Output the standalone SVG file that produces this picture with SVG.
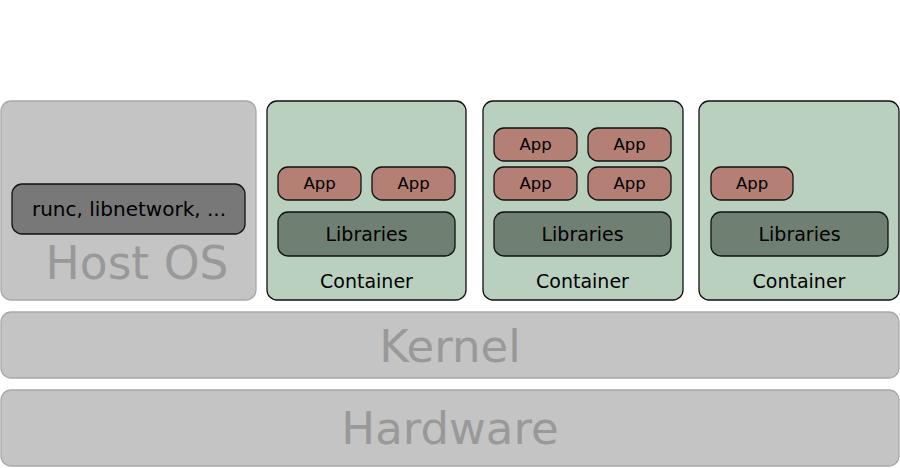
<svg xmlns="http://www.w3.org/2000/svg" width="900" height="468" viewBox="0 0 900 468">
<style>
.layer{fill:#c4c4c4;stroke:#a8a8a8;stroke-width:1.3}
.big{font-family:"DejaVu Sans",sans-serif;font-size:45px;fill:#999;text-anchor:middle}
.cont{fill:#b9d0bf;stroke:#111;stroke-width:1.3}
.app{fill:#b47f75;stroke:#111;stroke-width:1.3}
.lib{fill:#6f7f72;stroke:#111;stroke-width:1.3}
.tool{fill:#787878;stroke:#111;stroke-width:1.3}
.t{font-family:"DejaVu Sans",sans-serif;fill:#000;text-anchor:middle}
.s16{font-size:16.5px}
.s18{font-size:19px}
.s19{font-size:20px}
</style>
<rect width="900" height="468" fill="#fff"/>
<g id="hostos">
<rect class="layer" x="1" y="101" width="255" height="199" rx="10"/>
<rect class="tool" x="12" y="184" width="233" height="50" rx="10"/>
<text class="t s19" x="129" y="216">runc, libnetwork, ...</text>
<text class="big" x="137" y="279" style="font-size:45.5px">Host OS</text>
</g>
<g id="container1">
<rect class="cont" x="267" y="101" width="199" height="199" rx="10"/>
<rect class="app" x="278" y="167" width="83" height="33" rx="10"/>
<text class="t s16" x="319.5" y="189">App</text>
<rect class="app" x="372" y="167" width="83" height="33" rx="10"/>
<text class="t s16" x="413.5" y="189">App</text>
<rect class="lib" x="278" y="212" width="177" height="44" rx="10"/>
<text class="t s18" x="366.5" y="241">Libraries</text>
<text class="t s18" x="366.5" y="288">Container</text>
</g>
<g id="container2">
<rect class="cont" x="483" y="101" width="200" height="199" rx="10"/>
<rect class="app" x="494" y="128" width="83" height="33" rx="10"/>
<text class="t s16" x="535.5" y="150">App</text>
<rect class="app" x="588" y="128" width="83" height="33" rx="10"/>
<text class="t s16" x="629.5" y="150">App</text>
<rect class="app" x="494" y="167" width="83" height="33" rx="10"/>
<text class="t s16" x="535.5" y="189">App</text>
<rect class="app" x="588" y="167" width="83" height="33" rx="10"/>
<text class="t s16" x="629.5" y="189">App</text>
<rect class="lib" x="494" y="212" width="177" height="44" rx="10"/>
<text class="t s18" x="582.5" y="241">Libraries</text>
<text class="t s18" x="582.5" y="288">Container</text>
</g>
<g id="container3">
<rect class="cont" x="699" y="101" width="200" height="199" rx="10"/>
<rect class="app" x="711" y="167" width="82" height="33" rx="10"/>
<text class="t s16" x="752" y="189">App</text>
<rect class="lib" x="711" y="212" width="177" height="44" rx="10"/>
<text class="t s18" x="799.5" y="241">Libraries</text>
<text class="t s18" x="799" y="288">Container</text>
</g>
<g id="kernel">
<rect class="layer" x="1" y="312" width="898" height="66" rx="10"/>
<text class="big" x="450" y="362">Kernel</text>
</g>
<g id="hardware">
<rect class="layer" x="1" y="390" width="898" height="76" rx="10"/>
<text class="big" x="450" y="444">Hardware</text>
</g>
<g id="connectors"/>
</svg>
